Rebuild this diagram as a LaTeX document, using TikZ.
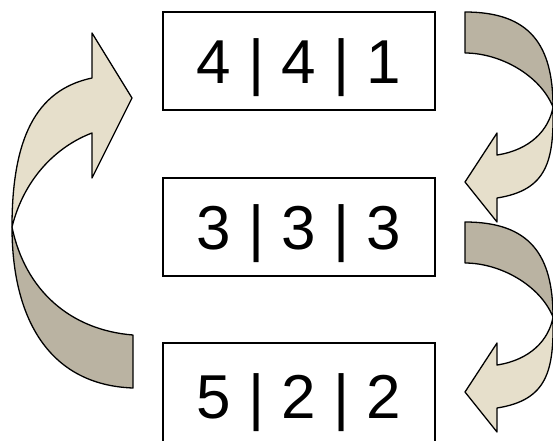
\documentclass[tikz,border=0pt]{standalone}
\usepackage{fontspec}
\setmainfont{Liberation Sans}
\definecolor{arrowlight}{HTML}{E6DFCB}
\definecolor{arrowdark}{HTML}{BAB3A2}
\begin{document}
\begin{tikzpicture}[x=1pt,y=-1pt,
  numbox/.style={draw, line width=2pt, minimum width=272pt, minimum height=98pt,
    text height=45pt, text depth=0pt, inner sep=0pt, font=\fontsize{62}{62}\selectfont},
  arrowfront/.style={fill=arrowlight, draw=black, line width=1.3pt, line join=round},
  arrowback/.style={fill=arrowdark, draw=black, line width=1.3pt, line join=round},
  rarrow/.pic={
    \draw[arrowback] (465,12) .. controls (530,12) and (553,45) .. (553,107)
      .. controls (540,75) and (500,53) .. (465,53) -- cycle;
    \draw[arrowfront] (553,107) .. controls (554,160) and (548,190) .. (497,198)
      -- (497,222) -- (465,182) -- (497,133) -- (497,155)
      .. controls (530,150) and (549,130) .. (553,107) -- cycle;
  }]
\useasboundingbox (0,0) rectangle (553,440);
\node[numbox] (b1) at (299,61) {4 | 4 | 1};
\node[numbox] (b2) at (299,226.5) {3 | 3 | 3};
\node[numbox, minimum height=106pt] (b3) at (299,396) {5 | 2 | 2};
% left arrow (from bottom box back to top box)
\draw[arrowback] (12,227) .. controls (12,320) and (50,385) .. (133,388)
  -- (133,335) .. controls (70,330) and (25,290) .. (12,227) -- cycle;
\draw[arrowfront] (12,227) .. controls (12,140) and (35,90) .. (92,78)
  -- (92,33) -- (132,98) -- (92,178) -- (92,133)
  .. controls (60,145) and (25,175) .. (12,227) -- cycle;
% right arrows
\pic at (0,0) {rarrow};
\pic at (0,210) {rarrow};
\end{tikzpicture}
\end{document}
